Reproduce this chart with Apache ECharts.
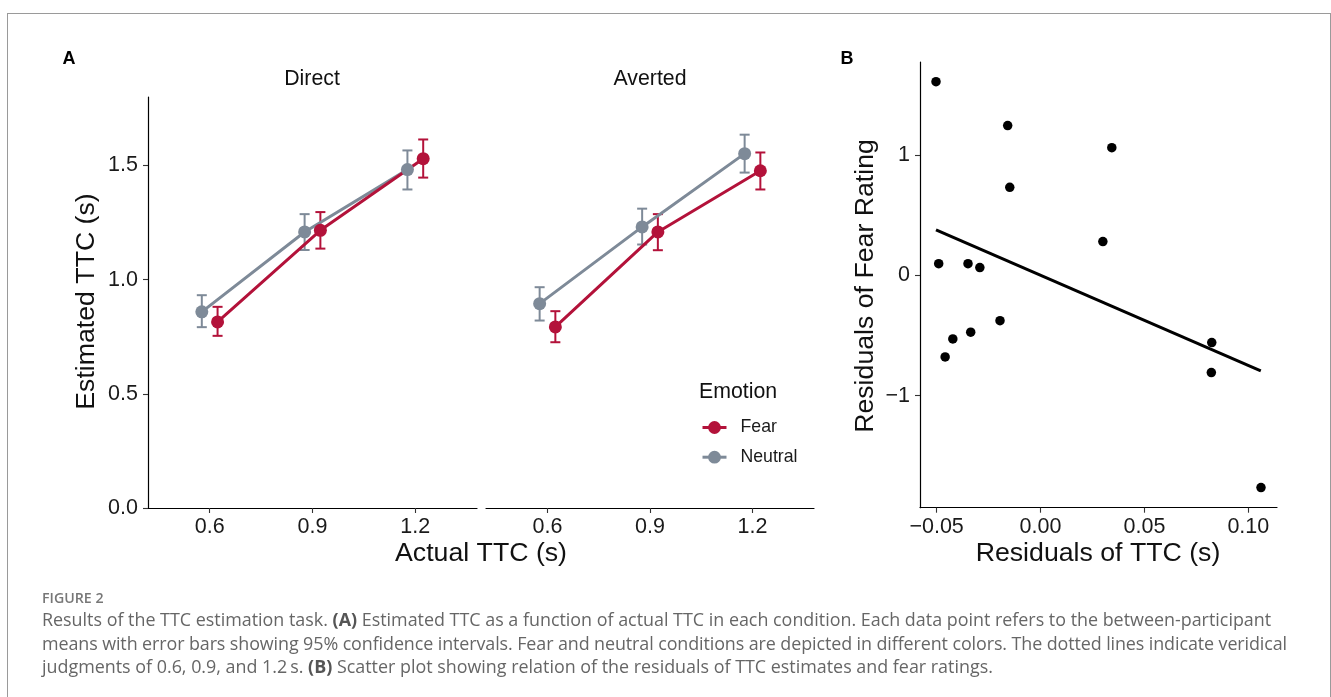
<!DOCTYPE html>
<html>
<head>
<meta charset="utf-8">
<script src="https://cdn.jsdelivr.net/npm/echarts@6/dist/echarts.min.js"></script>
<style>
html,body{margin:0;padding:0;background:#fff;width:1331px;height:697px;overflow:hidden;}
#chart{position:absolute;left:0;top:0;width:1331px;height:697px;}
#frame{position:absolute;left:7px;top:13px;width:1322px;height:700px;border:1px solid #9a9a9a;border-bottom:none;pointer-events:none;}
#caption{position:absolute;left:42px;top:588px;font-family:"Open Sans",sans-serif;color:#666;white-space:nowrap;}
#caption .fig{font-size:14.2px;font-weight:600;line-height:20px;color:#777;}
#caption .ln{font-size:17.9px;line-height:23.5px;}
#caption .ln2{letter-spacing:-0.09px;}
#caption b{font-weight:700;color:#555;}
</style>
</head>
<body>
<div id="chart"></div>
<div id="frame"></div>
<div id="caption">
  <div class="fig">FIGURE 2</div>
  <div class="ln">Results of the TTC estimation task. <b>(A)</b> Estimated TTC as a function of actual TTC in each condition. Each data point refers to the between-participant</div>
  <div class="ln ln2">means with error bars showing 95% confidence intervals. Fear and neutral conditions are depicted in different colors. The dotted lines indicate veridical</div>
  <div class="ln">judgments of 0.6, 0.9, and 1.2&#8201;s. <b>(B)</b> Scatter plot showing relation of the residuals of TTC estimates and fear ratings.</div>
</div>
<script>
// ---------- Panel A data ----------
const actualTTC = [0.6, 0.9, 1.2];
const xTickValuesA = [0.6, 0.9, 1.2];
const yTickValuesA = [0, 0.5, 1.0, 1.5];
const emotions = ['Fear', 'Neutral'];
const facets = ['Direct', 'Averted'];

const directFearMean    = [0.815, 1.216, 1.530];
const directFearLow     = [0.754, 1.136, 1.447];
const directFearHigh    = [0.881, 1.296, 1.614];
const directNeutralMean = [0.859, 1.209, 1.482];
const directNeutralLow  = [0.792, 1.130, 1.395];
const directNeutralHigh = [0.932, 1.287, 1.566];

const avertedFearMean    = [0.793, 1.209, 1.477];
const avertedFearLow     = [0.726, 1.129, 1.395];
const avertedFearHigh    = [0.862, 1.287, 1.557];
const avertedNeutralMean = [0.895, 1.231, 1.552];
const avertedNeutralLow  = [0.821, 1.154, 1.469];
const avertedNeutralHigh = [0.967, 1.311, 1.635];

// position_dodge offset (in x data units)
const dodge = 0.023;

// ---------- Panel B data ----------
const residTTC  = [-0.0503, -0.0158, 0.0343, -0.0148, 0.0300, -0.0490, -0.0349, -0.0292, -0.0195, -0.0336, -0.0422, -0.0459, 0.0824, 0.0822, 0.1061];
const residFear = [ 1.607,   1.242,  1.059,   0.730,  0.279,   0.096,   0.096,   0.063,  -0.377,  -0.473,  -0.529,  -0.678, -0.559, -0.808, -1.763];
const fitX = [-0.0503, 0.1060];
const fitY = [0.376, -0.794];
const xTickValuesB = [-0.05, 0.00, 0.05, 0.10];
const yTickValuesB = [-1, 0, 1];

// ---------- styles ----------
const FONT = 'Liberation Sans';
const colors = { Fear: '#B3123A', Neutral: '#7E8A98' };
const tickFont = 21.5;
const titleFont = 26.7;
const minus = s => String(s).replace('-', '\u2212');

function zip(xs, ys, off) { return xs.map((x, i) => [x + off, ys[i]]); }
function zip3(xs, lo, hi, off) { return xs.map((x, i) => [x + off, lo[i], hi[i]]); }

function errRender(color) {
  return function (params, api) {
    const x = api.value(0), lo = api.value(1), hi = api.value(2);
    const a = api.coord([x, lo]), b = api.coord([x, hi]);
    const w = 5;
    const st = { stroke: color, lineWidth: 2 };
    return {
      type: 'group',
      children: [
        { type: 'line', shape: { x1: a[0], y1: a[1], x2: b[0], y2: b[1] }, style: st },
        { type: 'line', shape: { x1: a[0] - w, y1: a[1], x2: a[0] + w, y2: a[1] }, style: st },
        { type: 'line', shape: { x1: b[0] - w, y1: b[1], x2: b[0] + w, y2: b[1] }, style: st }
      ]
    };
  };
}

const axisLineStyle = { onZero: false, lineStyle: { color: '#000', width: 1.2 } };
const axisTickStyle = { show: true, length: 5, lineStyle: { color: '#333', width: 1.1 } };

function xAxisA(gi) {
  return {
    type: 'value', gridIndex: gi, min: 0.42, max: 1.38,
    axisLine: axisLineStyle,
    axisTick: Object.assign({ customValues: xTickValuesA }, axisTickStyle),
    axisLabel: { customValues: xTickValuesA, formatter: v => v.toFixed(1), fontSize: tickFont, fontFamily: FONT, color: '#1a1a1a', margin: 8 },
    splitLine: { show: false }
  };
}
function yAxisA(gi, show) {
  return {
    type: 'value', gridIndex: gi, min: 0, max: 1.8,
    axisLine: Object.assign({}, axisLineStyle, { show: show }),
    axisTick: Object.assign({ customValues: yTickValuesA }, axisTickStyle, { show: show }),
    axisLabel: { show: show, customValues: yTickValuesA, formatter: v => v.toFixed(1), fontSize: tickFont, fontFamily: FONT, color: '#1a1a1a', margin: 10 },
    splitLine: { show: false }
  };
}

const facetData = [
  { Fear: [directFearMean, directFearLow, directFearHigh], Neutral: [directNeutralMean, directNeutralLow, directNeutralHigh] },
  { Fear: [avertedFearMean, avertedFearLow, avertedFearHigh], Neutral: [avertedNeutralMean, avertedNeutralLow, avertedNeutralHigh] }
];

const series = [];
facetData.forEach((fd, gi) => {
  ['Neutral', 'Fear'].forEach(emo => {
    const off = emo === 'Fear' ? dodge : -dodge;
    const m = fd[emo][0];
    series.push({
      type: 'line', name: emo, xAxisIndex: gi, yAxisIndex: gi, z: 3,
      data: zip(actualTTC, m, off),
      symbol: 'circle', symbolSize: 13, showSymbol: true,
      lineStyle: { color: colors[emo], width: 3 },
      itemStyle: { color: colors[emo] }
    });
  });
  ['Neutral', 'Fear'].forEach(emo => {
    const off = emo === 'Fear' ? dodge : -dodge;
    const [m, lo, hi] = fd[emo];
    series.push({
      type: 'custom', name: emo + ' 95% CI', xAxisIndex: gi, yAxisIndex: gi, z: 2,
      renderItem: errRender(colors[emo]),
      encode: { x: 0, y: [1, 2] },
      data: zip3(actualTTC, lo, hi, off),
      silent: true
    });
  });
});

// Panel B
series.push({
  type: 'scatter', name: 'residuals', xAxisIndex: 2, yAxisIndex: 2, z: 3,
  data: residTTC.map((x, i) => [x, residFear[i]]),
  symbol: 'circle', symbolSize: 9.5, itemStyle: { color: '#000', opacity: 1 }
});
series.push({
  type: 'line', name: 'fit', xAxisIndex: 2, yAxisIndex: 2, z: 2,
  data: fitX.map((x, i) => [x, fitY[i]]),
  showSymbol: false, symbol: 'none',
  lineStyle: { color: '#000', width: 3 }
});

function txt(text, x, y, opts) {
  return Object.assign({
    type: 'text', x: x, y: y,
    style: Object.assign({ text: text, fontFamily: FONT, fontSize: tickFont, fill: '#111', align: 'center', verticalAlign: 'middle' }, (opts && opts.style) || {})
  }, (opts && opts.el) || {});
}

const option = {
  animation: false,
  backgroundColor: '#fff',
  grid: [
    { left: 148, top: 97, width: 329, height: 411 },
    { left: 486, top: 97, width: 328, height: 411 },
    { left: 920, top: 62, width: 357, height: 445.7 }
  ],
  xAxis: [
    xAxisA(0), xAxisA(1),
    {
      type: 'value', gridIndex: 2, min: -0.058, max: 0.1138,
      axisLine: axisLineStyle,
      axisTick: Object.assign({ customValues: xTickValuesB }, axisTickStyle),
      axisLabel: { customValues: xTickValuesB, formatter: v => minus(v.toFixed(2)), fontSize: tickFont, fontFamily: FONT, color: '#1a1a1a', margin: 8 },
      splitLine: { show: false }
    }
  ],
  yAxis: [
    yAxisA(0, true), yAxisA(1, false),
    {
      type: 'value', gridIndex: 2, min: -1.93, max: 1.77,
      axisLine: axisLineStyle,
      axisTick: Object.assign({ customValues: yTickValuesB }, axisTickStyle),
      axisLabel: { customValues: yTickValuesB, formatter: v => minus(Math.round(v)), fontSize: tickFont, fontFamily: FONT, color: '#1a1a1a', margin: 10 },
      splitLine: { show: false }
    }
  ],
  legend: {
    data: emotions, orient: 'vertical', left: 701, top: 418.5, padding: 0,
    itemWidth: 24, itemHeight: 16, itemGap: 11.7,
    lineStyle: { width: 3 },
    textStyle: { fontSize: 17.7, fontFamily: FONT, color: '#1a1a1a', padding: [0, 0, 0, 9] },
    selectedMode: false
  },
  graphic: [
    txt('A', 69, 59.5, { style: { fontSize: 18, fontWeight: 'bold', fill: '#000' } }),
    txt('B', 847, 59, { style: { fontSize: 18, fontWeight: 'bold', fill: '#000' } }),
    txt(facets[0], 312, 79.5, { style: { fontSize: 21.3 } }),
    txt(facets[1], 650, 79.5, { style: { fontSize: 21.3 } }),
    txt('Estimated TTC (s)', 87, 301.5, { style: { fontSize: titleFont }, el: { rotation: Math.PI / 2 } }),
    txt('Actual TTC (s)', 481, 553.3, { style: { fontSize: titleFont } }),
    txt('Residuals of Fear Rating', 865.5, 286, { style: { fontSize: titleFont }, el: { rotation: Math.PI / 2 } }),
    txt('Residuals of TTC (s)', 1098, 554, { style: { fontSize: titleFont } }),
    txt('Emotion', 699, 391.7, { style: { fontSize: 21.3, align: 'left' } })
  ],
  series: series
};

const chart = echarts.init(document.getElementById('chart'), null, { renderer: 'canvas' });
chart.setOption(option);
</script>
</body>
</html>
